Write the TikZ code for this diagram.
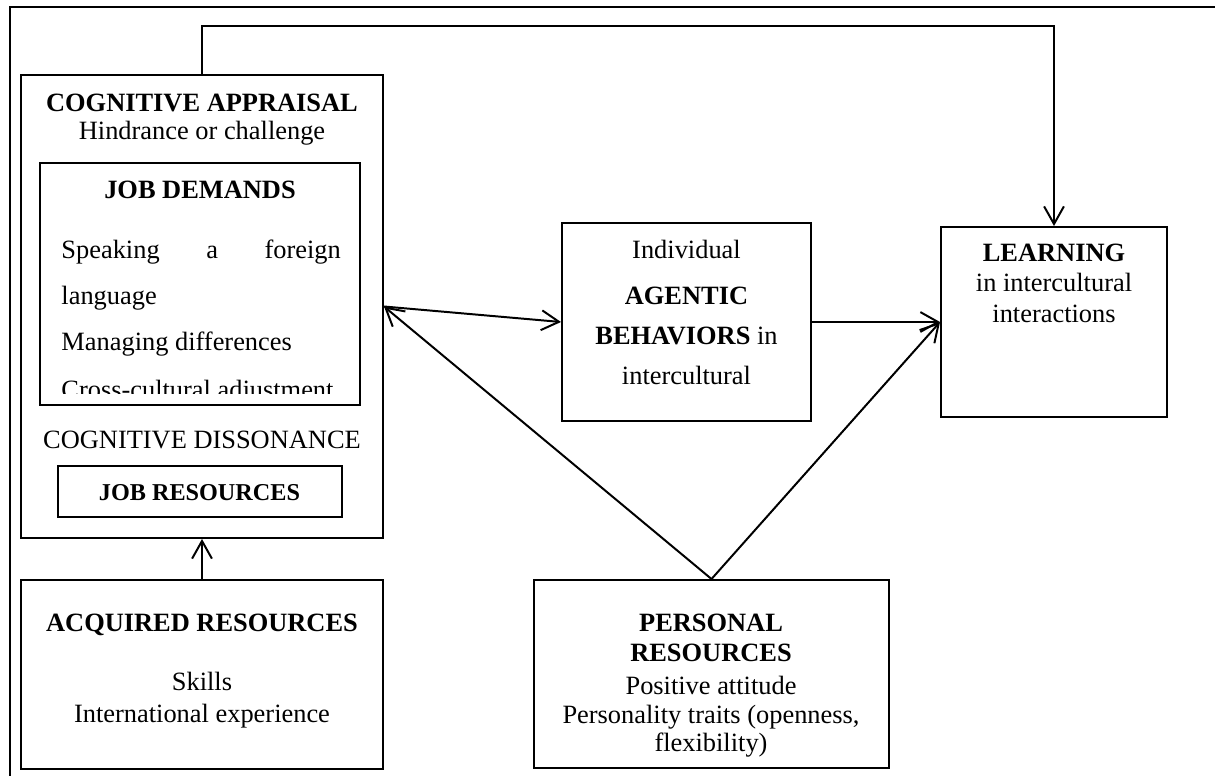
\documentclass[tikz,border=0pt]{standalone}
\usepackage{fontspec}
\setmainfont{Liberation Serif}
\usetikzlibrary{arrows.meta,positioning}
\newcommand{\px}{0.4545pt}
\tikzset{
  blk/.style={draw, line width=0.9pt, inner sep=0pt},
  arr/.style={line width=0.9pt, -{Straight Barb[length=8pt,width=9pt]}},
  txt/.style={anchor=base, inner sep=0pt, font=\fontsize{12pt}{14pt}\selectfont},
}

\begin{document}
\begin{tikzpicture}[x=\px, y=-\px]
        \useasboundingbox (0,0) rectangle (1215,776);
        % outer frame (top and left only)
        \draw[line width=0.9pt] (1215,7) -- (10,7) -- (10,776);
        % boxes
        \node[blk, minimum width=362*\px, minimum height=463*\px] (ca) at (202,306.5) {};
        \node[blk, minimum width=320*\px, minimum height=242*\px] (jd) at (200,284) {};
        \node[blk, minimum width=284*\px, minimum height=51*\px] (jr) at (200,491.5) {};
        \node[blk, minimum width=362*\px, minimum height=189*\px] (acq) at (202,674.5) {};
        \node[blk, minimum width=249*\px, minimum height=198*\px] (agb) at (686.5,322) {};
        \node[blk, minimum width=226*\px, minimum height=190*\px] (learn) at (1054,322) {};
        \node[blk, minimum width=355*\px, minimum height=188*\px] (pers) at (711.5,674) {};
        % cognitive appraisal
        \node[txt] (catitle) at (202,112) {\bfseries COGNITIVE APPRAISAL};
        \node[txt] (casub) at (202,140) {Hindrance or challenge};
        \node[txt] (jdtitle) at (200,199) {\bfseries JOB DEMANDS};
        \node[txt, anchor=base west] (jdl1) at (61,259) {\hbox to 127pt{Speaking\hfill a\hfill foreign}};
        \node[txt, anchor=base west] (jdl2) at (61,305) {language};
        \node[txt, anchor=base west] (jdl3) at (61,351) {Managing differences};
        \begin{scope}
          \clip (40,163) rectangle (360,393);
          \node[txt, anchor=base west] (jdl4) at (61,398) {Cross-cultural adjustment};
        \end{scope}
        \node[txt] (cdiss) at (202,448) {COGNITIVE DISSONANCE};
        \node[txt, font=\fontsize{11pt}{13pt}\selectfont\bfseries] (jrtxt) at (199.5,500) {JOB RESOURCES};
        % acquired resources
        \node[txt] (acqtitle) at (202,631) {\bfseries ACQUIRED RESOURCES};
        \node[txt] (acql1) at (202,690) {Skills};
        \node[txt] (acql2) at (202,722) {International experience};
        % agentic behaviors
        \node[txt] (agbl1) at (686.5,259) {Individual};
        \node[txt] (agbl2) at (686.5,305) {\bfseries AGENTIC};
        \node[txt] (agbl3) at (686.5,345) {\textbf{BEHAVIORS} in};
        \node[txt] (agbl4) at (686.5,385) {intercultural};
        % learning
        \node[txt] (learnl1) at (1054,262) {\bfseries LEARNING};
        \node[txt] (learnl2) at (1054,292) {in intercultural};
        \node[txt] (learnl3) at (1054,323) {interactions};
        % personal resources
        \node[txt] (persl1) at (711,631) {\bfseries PERSONAL};
        \node[txt] (persl2) at (711,661) {\bfseries RESOURCES};
        \node[txt] (persl3) at (711,694) {Positive attitude};
        \node[txt] (persl4) at (711,723) {Personality traits (openness,};
        \node[txt] (persl5) at (711,751) {flexibility)};
        % arrows
        \draw[arr] (ca.north) -- ++(0,-48) -| (learn.north);
        \draw[arr] (acq.north) -- (ca.south);
        \draw[arr] (ca.east) -- (agb.west);
        \draw[arr] (agb.east) -- (learn.west);
        \draw[arr] (pers.north) -- (ca.east);
        \draw[arr] (pers.north) -- (learn.west);
\end{tikzpicture}
\end{document}
